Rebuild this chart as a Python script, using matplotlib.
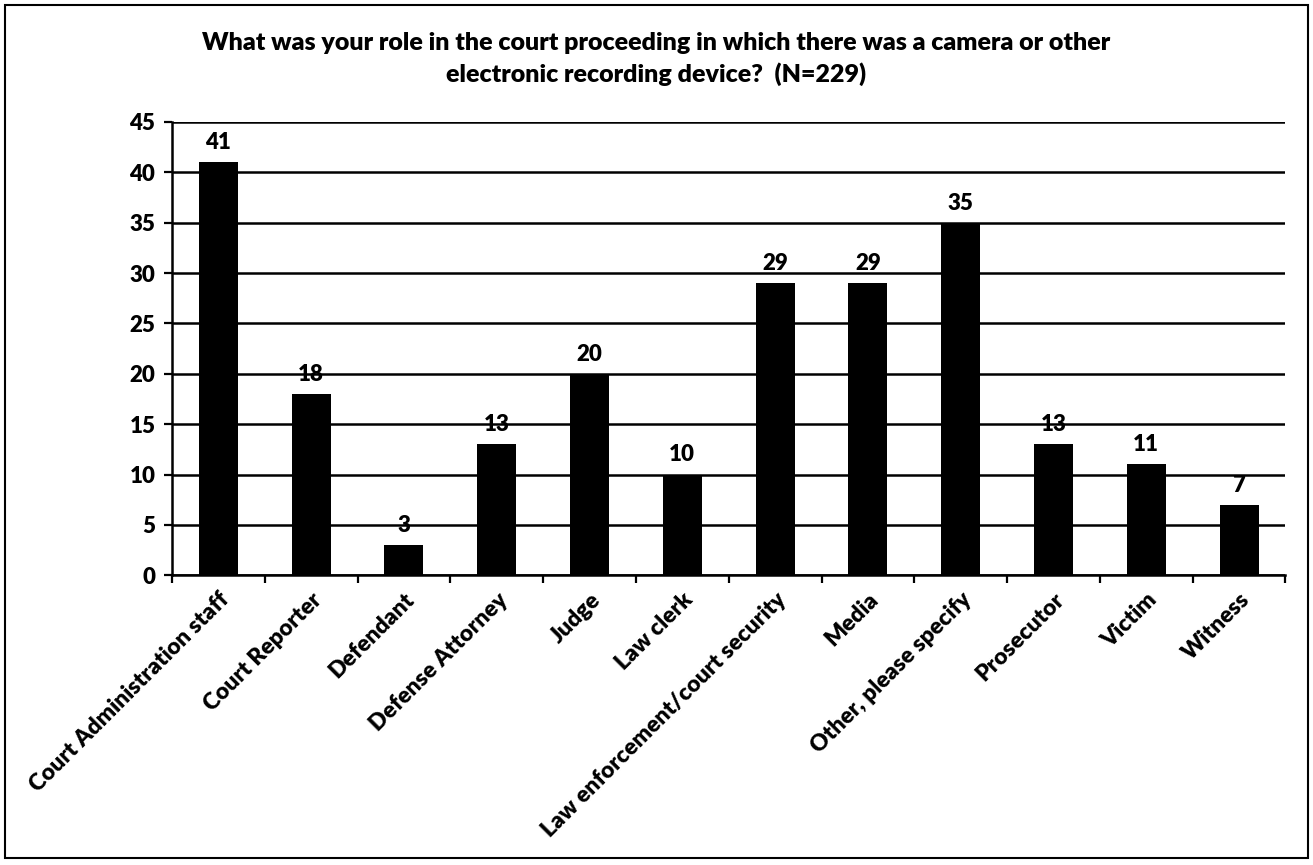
import matplotlib.pyplot as plt
import numpy as np
from matplotlib.patches import Rectangle

categories = ['Court Administration staff', 'Court Reporter', 'Defendant',
              'Defense Attorney', 'Judge', 'Law clerk',
              'Law enforcement/court security', 'Media', 'Other, please specify',
              'Prosecutor', 'Victim', 'Witness']
counts = [41, 18, 3, 13, 20, 10, 29, 29, 35, 13, 11, 7]
y_ticks = [0, 5, 10, 15, 20, 25, 30, 35, 40, 45]

plt.rcParams['font.family'] = ['Lato', 'DejaVu Sans']

fig = plt.figure(figsize=(13.13, 8.65), dpi=100)
ax = fig.add_axes([0.131, 0.335, 0.848, 0.524])

x = np.arange(len(categories))
ax.bar(x, counts, width=0.42, color='black', zorder=3)
for xi, v in zip(x, counts):
    ax.text(xi, v + 0.9, str(v), ha='center', va='bottom', fontsize=16,
            fontweight='heavy')

ax.set_xlim(-0.5, len(categories) - 0.5)
ax.set_ylim(0, 45)
ax.set_yticks(y_ticks)
ax.set_yticklabels([str(t) for t in y_ticks], fontsize=16, fontweight='heavy')
ax.yaxis.grid(True, color='black', linewidth=1.8, zorder=0)
ax.set_axisbelow(True)

# category boundaries get the tick marks, labels sit on the bar centres
ax.set_xticks(np.arange(-0.5, len(categories)), minor=False)
ax.set_xticklabels([])
ax.set_xticks(x, minor=True)
ax.set_xticklabels(categories, minor=True, rotation=45, ha='right',
                   rotation_mode='anchor', fontsize=16.5, fontweight='heavy')
ax.tick_params(axis='x', which='minor', length=0, pad=10)
ax.tick_params(axis='x', which='major', length=6, width=1.6, direction='out')
ax.tick_params(axis='y', length=6, width=1.6, direction='out', pad=6)

for s in ['top', 'right']:
    ax.spines[s].set_visible(False)
ax.spines['left'].set_linewidth(1.8)
ax.spines['bottom'].set_linewidth(1.8)

fig.text(0.5, 0.932, 'What was your role in the court proceeding in which there was a camera or other\n'
         'electronic recording device?  (N=229)', ha='center', va='center',
         fontsize=18, fontweight='heavy', linespacing=1.4)

fig.patches.append(Rectangle((0.004, 0.008), 0.992, 0.986, transform=fig.transFigure,
                             fill=False, edgecolor='black', linewidth=1.5))

fig.savefig('out.png', dpi=100)
